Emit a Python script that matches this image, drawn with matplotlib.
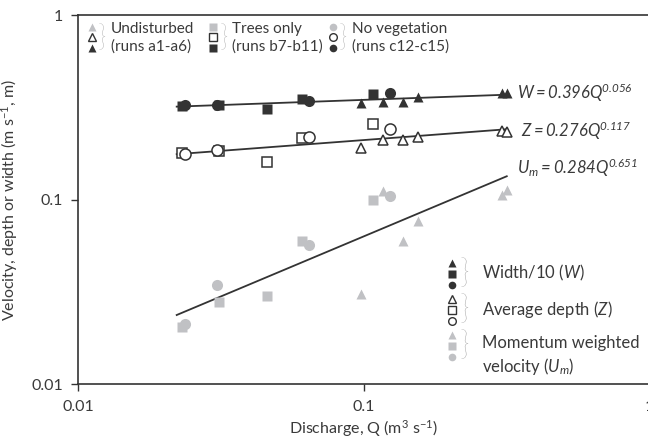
import numpy as np
import matplotlib
matplotlib.use('Agg')
import matplotlib.pyplot as plt

plt.rcParams['font.family'] = ['Lato', 'DejaVu Sans']
plt.rcParams['mathtext.fontset'] = 'custom'
plt.rcParams['mathtext.rm'] = 'Lato'
plt.rcParams['mathtext.it'] = 'Lato:italic'
plt.rcParams['mathtext.bf'] = 'Lato:bold'
plt.rcParams['mathtext.sf'] = 'Lato:italic'

# discharge Q (m3/s) per run
q_tri = [0.098, 0.117, 0.137, 0.155, 0.303, 0.316]   # undisturbed a1-a6
q_sq = [0.023, 0.031, 0.0456, 0.0607, 0.1075]        # trees only b7-b11
q_circ = [0.0236, 0.0307, 0.064, 0.123]             # no vegetation c12-c15

# width/10 (W)
w_tri = [0.333, 0.337, 0.339, 0.359, 0.377, 0.380]
w_sq = [0.323, 0.326, 0.310, 0.350, 0.373]
w_circ = [0.326, 0.328, 0.344, 0.377]

# average depth (Z)
z_tri = [0.191, 0.212, 0.212, 0.219, 0.236, 0.233]
z_sq = [0.180, 0.183, 0.161, 0.216, 0.257]
z_circ = [0.178, 0.186, 0.218, 0.242]

# momentum weighted velocity (Um)
u_tri = [0.031, 0.112, 0.060, 0.077, 0.106, 0.113]
u_sq = [0.0205, 0.028, 0.030, 0.060, 0.100]
u_circ = [0.0212, 0.0345, 0.057, 0.105]

# power-law fits: coef, exponent
fits = {'W': (0.396, 0.056), 'Z': (0.276, 0.117), 'U': (0.284, 0.651)}
q_fit_range = [0.0221, 0.316]

DARK = '#333333'
GREY = '#c0c1c4'
TXT = '#3a3a3a'

fig = plt.figure(figsize=(6.48, 4.44), dpi=100)
W, H = 648.0, 444.0
ax = fig.add_axes([78.3 / W, 1 - 384.3 / H, (649.7 - 78.3) / W, (384.3 - 15.3) / H])
ax.set_xscale('log')
ax.set_yscale('log')
ax.set_xlim(0.01, 1)
ax.set_ylim(0.01, 1)

qq = np.logspace(np.log10(q_fit_range[0]), np.log10(q_fit_range[1]), 50)
for k, (a, b) in fits.items():
    ax.plot(qq, a * qq ** b, color=DARK, lw=1.3, zorder=2)

ms_t, ms_s, ms_c = 7.5, 6.5, 8

# grey (Um)
ax.plot(q_tri, u_tri, '^', color=GREY, ms=ms_t, mec='none', zorder=3)
ax.plot(q_sq, u_sq, 's', color=GREY, ms=ms_s, mec='none', zorder=3)
ax.plot(q_circ, u_circ, 'o', color=GREY, ms=ms_c, mec='none', zorder=3)
# open (Z)
ax.plot(q_tri, z_tri, '^', mfc='white', mec=DARK, mew=1.1, ms=ms_t, zorder=3)
ax.plot(q_sq, z_sq, 's', mfc='white', mec=DARK, mew=1.1, ms=ms_s, zorder=3)
ax.plot(q_circ, z_circ, 'o', mfc='white', mec=DARK, mew=1.1, ms=ms_c, zorder=3)
# filled (W)
ax.plot(q_tri, w_tri, '^', color=DARK, ms=ms_t, mec='none', zorder=3)
ax.plot(q_sq, w_sq, 's', color=DARK, ms=ms_s, mec='none', zorder=3)
ax.plot(q_circ, w_circ, 'o', color=DARK, ms=ms_c, mec='none', zorder=3)

ax.set_xticks([0.01, 0.1, 1])
ax.set_xticklabels(['0.01', '0.1', '1'])
ax.set_yticks([0.01, 0.1, 1])
ax.set_yticklabels(['0.01', '0.1', '1'])
ax.minorticks_off()
ax.tick_params(direction='out', length=5, width=1, color=DARK, labelcolor=TXT,
               labelsize=11.5, pad=6)
for s in ax.spines.values():
    s.set_color(DARK)
    s.set_linewidth(1.2)

ax.set_xlabel(r'Discharge, Q (m$^{3}$ s$^{-1}$)', fontsize=11.5, color=TXT, labelpad=3)
ax.set_ylabel(r'Velocity, depth or width (m s$^{-1}$, m)', fontsize=11.5, color=TXT, labelpad=8)


def fpt(x, y):
    return x / W, 1 - y / H


# equations
eq_kw = dict(transform=fig.transFigure, fontsize=12, color=TXT, va='center', ha='left')
fig.text(*fpt(517, 93), r'$\mathsf{W = 0.396Q^{0.056}}$', **eq_kw)
fig.text(*fpt(521, 131), r'$\mathsf{Z = 0.276Q^{0.117}}$', **eq_kw)
fig.text(*fpt(517, 168), r'$\mathsf{U_{m} = 0.284Q^{0.651}}$', **eq_kw)

# top-left legend
def mk(x, y, m, **kw):
    fx, fy = fpt(x, y)
    ax.plot([fx], [fy], m, transform=fig.transFigure, clip_on=False, **kw)


leg_ms = 5.5
for x0, m, lab1, lab2 in [(91.7, '^', 'Undisturbed', '(runs a1-a6)'),
                          (213.3, 's', 'Trees only', '(runs b7-b11)'),
                          (333.0, 'o', 'No vegetation', '(runs c12-c15)')]:
    mk(x0, 27, m, color=GREY, ms=leg_ms, mec='none')
    mk(x0, 37.5, m, mfc='white', mec=DARK, mew=1.0, ms=leg_ms)
    mk(x0, 48, m, color=DARK, ms=leg_ms, mec='none')
    fig.text(*fpt(x0 + 6, 38), '}', fontsize=21, color='#8a8a8a', va='center',
             ha='left', fontweight='light')
    fig.text(*fpt(x0 + 19, 29), lab1, fontsize=11, color=TXT, va='center')
    fig.text(*fpt(x0 + 19, 47), lab2, fontsize=11, color=TXT, va='center')

# right legend
lx = 451.7
leg_ms2 = 5.5
for yc, style in [(274, 'dark'), (310, 'open'), (346, 'grey')]:
    for dy, m in [(-11, '^'), (0, 's'), (11, 'o')]:
        if style == 'dark':
            mk(lx, yc + dy, m, color=DARK, ms=leg_ms2, mec='none')
        elif style == 'open':
            mk(lx, yc + dy, m, mfc='white', mec=DARK, mew=1.0, ms=leg_ms2)
        else:
            mk(lx, yc + dy, m, color=GREY, ms=leg_ms2, mec='none')
    fig.text(*fpt(lx + 8, yc), '}', fontsize=24, color='#8a8a8a', va='center',
             ha='left', fontweight='light')

fig.text(*fpt(481.7, 273), r'Width/10 ($\mathit{W}$)', fontsize=12, color=TXT, va='center')
fig.text(*fpt(481.7, 310), r'Average depth ($\mathit{Z}$)', fontsize=12, color=TXT, va='center')
fig.text(*fpt(481.7, 343), 'Momentum weighted', fontsize=12, color=TXT, va='center')
fig.text(*fpt(481.7, 366), r'velocity ($\mathit{U_{m}}$)', fontsize=12, color=TXT, va='center')

fig.savefig('out.png', dpi=100)
